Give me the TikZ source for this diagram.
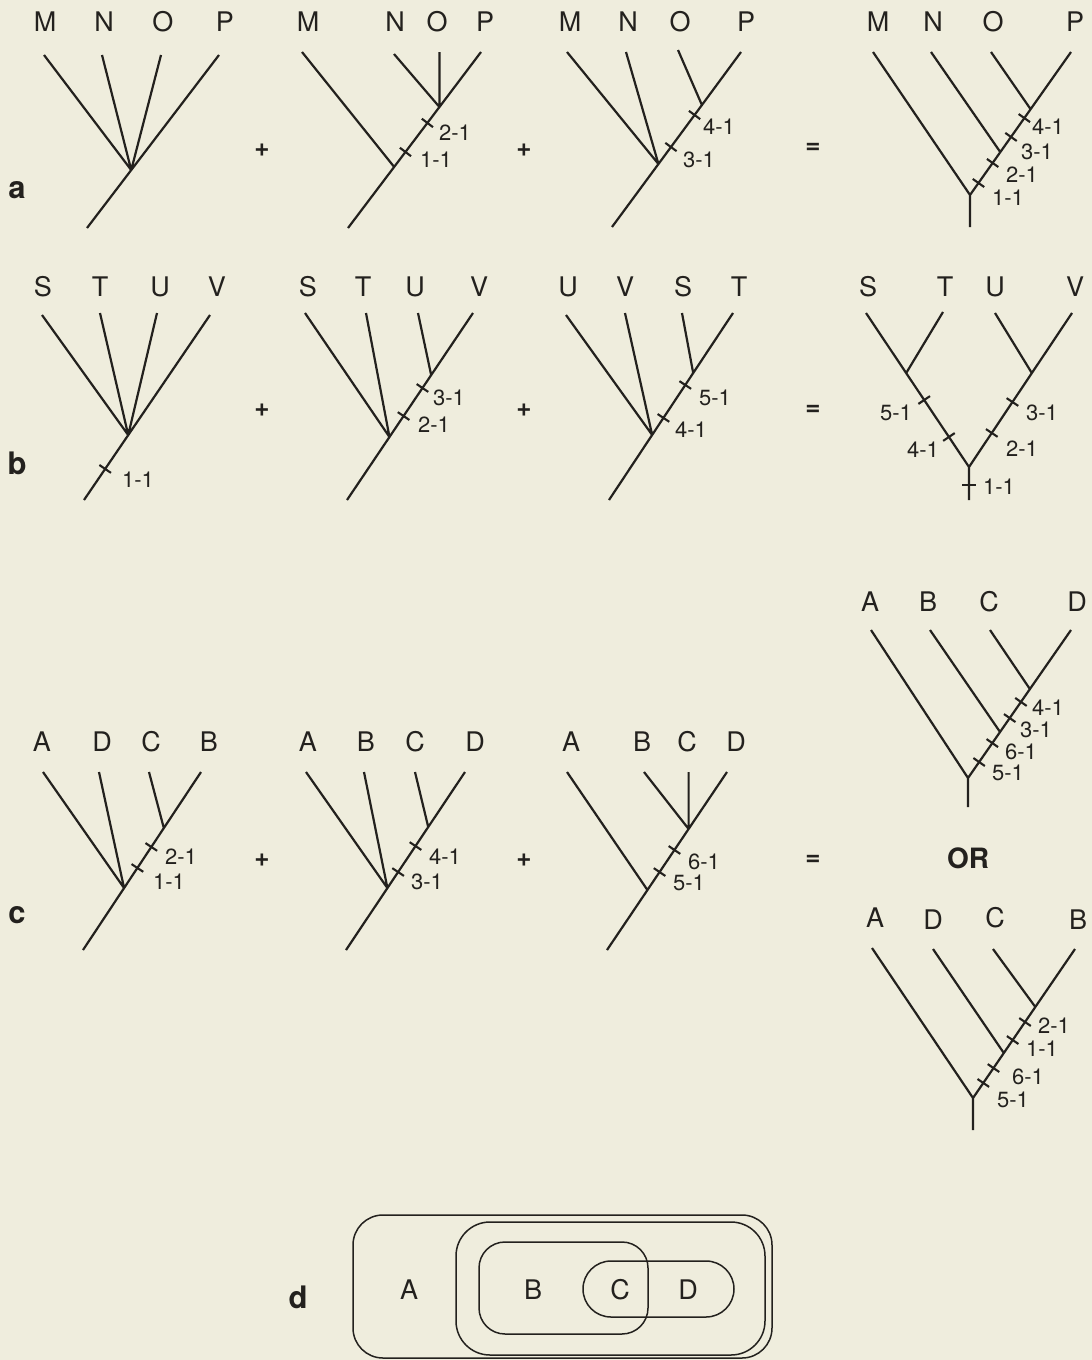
\documentclass[tikz,border=0pt]{standalone}
\usepackage{fontspec}
\setmainfont{TeX Gyre Heros}
\usetikzlibrary{calc}
\definecolor{paper}{RGB}{239,237,221}
\definecolor{ink}{RGB}{35,33,30}
\newcommand{\tmark}[3]{%
  \path (#1) -- (#2) coordinate[pos=#3] (tm);
  \draw[tickln] ($(tm)!7pt!90:(#2)$) -- ($(tm)!7pt!-90:(#2)$);}
\begin{document}
\begin{tikzpicture}[x=1pt,y=-1pt,
  br/.style={draw=ink,line width=2.2pt},
  tickln/.style={draw=ink,line width=2.1pt},
  lbl/.style={inner sep=0pt,text=ink,font=\fontsize{27}{30}\selectfont},
  num/.style={inner sep=0pt,text=ink,font=\fontsize{22}{24}\selectfont},
  part/.style={inner sep=0pt,text=ink,font=\fontsize{31}{33}\selectfont\bfseries},
  op/.style={inner sep=0pt,text=ink,font=\fontsize{26}{28}\selectfont\bfseries},
  box/.style={draw=ink,line width=1.5pt}]
\fill[paper] (0,0) rectangle (1092,1360);
\useasboundingbox (0,0) rectangle (1092,1360);

% ===== row a =====
\node[part] (pa) at (17,190) {a};
% a1
\coordinate (a1R) at (87,228); \coordinate (a1P) at (219,55);
\coordinate (a1J) at ($(a1R)!0.335!(a1P)$);
\coordinate (a1M) at (44,55); \coordinate (a1N) at (102,55); \coordinate (a1O) at (161,55);
\draw[br] (a1R) -- (a1P) (a1J) -- (a1M) (a1J) -- (a1N) (a1J) -- (a1O);
\node[lbl] (a1m) at (45,22) {M}; \node[lbl] (a1n) at (104,22) {N};
\node[lbl] (a1o) at (163,22) {O}; \node[lbl] (a1p) at (225,22) {P};
\node[op] (pl1) at (262,150) {+};
% a2
\coordinate (a2R) at (348,228); \coordinate (a2P) at (481,52);
\coordinate (a2J1) at ($(a2R)!0.347!(a2P)$); \coordinate (a2J2) at ($(a2R)!0.6875!(a2P)$);
\coordinate (a2M) at (302,52); \coordinate (a2N) at (394,54); \coordinate (a2O) at (a2J2 |- a2P);
\draw[br] (a2R) -- (a2P) (a2J1) -- (a2M) (a2J2) -- (a2N) (a2J2) -- (a2O);
\tmark{a2R}{a2P}{0.597} \tmark{a2R}{a2P}{0.432}
\node[num] (a2t2) at (455,133) {2-1}; \node[num] (a2t1) at (436,160) {1-1};
\node[lbl] (a2m) at (308,22) {M}; \node[lbl] (a2n) at (395,22) {N};
\node[lbl] (a2o) at (437,22) {O}; \node[lbl] (a2p) at (485,22) {P};
\node[op] (pl2) at (524,150) {+};
% a3
\coordinate (a3R) at (612,227); \coordinate (a3P) at (741,52);
\coordinate (a3J1) at ($(a3R)!0.36!(a3P)$); \coordinate (a3J2) at ($(a3R)!0.697!(a3P)$);
\coordinate (a3M) at (567,52); \coordinate (a3N) at (626,52); \coordinate (a3O) at (678,50);
\draw[br] (a3R) -- (a3P) (a3J1) -- (a3M) (a3J1) -- (a3N) (a3J2) -- (a3O);
\tmark{a3R}{a3P}{0.64} \tmark{a3R}{a3P}{0.457}
\node[num] (a3t4) at (719,127) {4-1}; \node[num] (a3t3) at (699,160) {3-1};
\node[lbl] (a3m) at (570,22) {M}; \node[lbl] (a3n) at (628,22) {N};
\node[lbl] (a3o) at (680,22) {O}; \node[lbl] (a3p) at (746,22) {P};
\node[op] (eq1) at (813,148) {=};
% a4
\coordinate (a4Rb) at (970,227); \coordinate (a4Rn) at (970,195); \coordinate (a4P) at (1071,52);
\coordinate (a4J1) at ($(a4Rn)!0.30!(a4P)$); \coordinate (a4J2) at ($(a4Rn)!0.60!(a4P)$);
\coordinate (a4M) at (873,52); \coordinate (a4N) at (931,52); \coordinate (a4O) at (991,52);
\draw[br] (a4Rb) -- (a4Rn) -- (a4P) (a4Rn) -- (a4M) (a4J1) -- (a4N) (a4J2) -- (a4O);
\tmark{a4Rn}{a4P}{0.538} \tmark{a4Rn}{a4P}{0.406} \tmark{a4Rn}{a4P}{0.224} \tmark{a4Rn}{a4P}{0.084}
\node[num] (a4t4) at (1048,127) {4-1}; \node[num] (a4t3) at (1037,152) {3-1};
\node[num] (a4t2) at (1022,175) {2-1}; \node[num] (a4t1) at (1008,198) {1-1};
\node[lbl] (a4m) at (878,22) {M}; \node[lbl] (a4n) at (933,22) {N};
\node[lbl] (a4o) at (993,22) {O}; \node[lbl] (a4p) at (1075,22) {P};

% ===== row b =====
\node[part] (pb) at (17,463) {b};
% b1
\coordinate (b1R) at (84,500); \coordinate (b1V) at (210,315);
\coordinate (b1J) at ($(b1R)!0.351!(b1V)$);
\coordinate (b1S) at (42,315); \coordinate (b1T) at (100,313); \coordinate (b1U) at (157,313);
\draw[br] (b1R) -- (b1V) (b1J) -- (b1S) (b1J) -- (b1T) (b1J) -- (b1U);
\tmark{b1R}{b1V}{0.168}
\node[num] (b1t1) at (138,480) {1-1};
\node[lbl] (b1s) at (43,287) {S}; \node[lbl] (b1tt) at (100,287) {T};
\node[lbl] (b1u) at (160,287) {U}; \node[lbl] (b1v) at (217,287) {V};
\node[op] (pl3) at (262,410) {+};
% b2
\coordinate (b2R) at (347,500); \coordinate (b2V) at (473,313);
\coordinate (b2J1) at ($(b2R)!0.337!(b2V)$); \coordinate (b2J2) at ($(b2R)!0.668!(b2V)$);
\coordinate (b2S) at (305,313); \coordinate (b2T) at (366,313); \coordinate (b2U) at (418,313);
\draw[br] (b2R) -- (b2V) (b2J1) -- (b2S) (b2J1) -- (b2T) (b2J2) -- (b2U);
\tmark{b2R}{b2V}{0.599} \tmark{b2R}{b2V}{0.449}
\node[num] (b2t3) at (449,398) {3-1}; \node[num] (b2t2) at (434,425) {2-1};
\node[lbl] (b2s) at (308,287) {S}; \node[lbl] (b2tt) at (363,287) {T};
\node[lbl] (b2u) at (415,287) {U}; \node[lbl] (b2v) at (479,287) {V};
\node[op] (pl4) at (524,410) {+};
% b3
\coordinate (b3R) at (609,500); \coordinate (b3T) at (733,313);
\coordinate (b3J1) at ($(b3R)!0.348!(b3T)$); \coordinate (b3J2) at ($(b3R)!0.679!(b3T)$);
\coordinate (b3U) at (566,315); \coordinate (b3V) at (625,313); \coordinate (b3S) at (682,313);
\draw[br] (b3R) -- (b3T) (b3J1) -- (b3U) (b3J1) -- (b3V) (b3J2) -- (b3S);
\tmark{b3R}{b3T}{0.615} \tmark{b3R}{b3T}{0.439}
\node[num] (b3t5) at (715,398) {5-1}; \node[num] (b3t4) at (691,430) {4-1};
\node[lbl] (b3u) at (568,287) {U}; \node[lbl] (b3v) at (625,287) {V};
\node[lbl] (b3s) at (683,287) {S}; \node[lbl] (b3tt) at (739,287) {T};
\node[op] (eq2) at (813,410) {=};
% b4
\coordinate (b4Rb) at (969,500); \coordinate (b4Rn) at (969,467);
\coordinate (b4S) at (866,313); \coordinate (b4V) at (1072,313);
\coordinate (b4JL) at ($(b4Rn)!0.61!(b4S)$); \coordinate (b4JR) at ($(b4Rn)!0.61!(b4V)$);
\coordinate (b4T) at (943,312); \coordinate (b4U) at (995,313);
\draw[br] (b4Rb) -- (b4Rn) (b4S) -- (b4Rn) -- (b4V) (b4JL) -- (b4T) (b4JR) -- (b4U);
\tmark{b4Rn}{b4S}{0.435} \tmark{b4Rn}{b4S}{0.195}
\tmark{b4Rn}{b4V}{0.422} \tmark{b4Rn}{b4V}{0.221}
\tmark{b4Rb}{b4Rn}{0.45}
\node[num] (b4t5) at (896,413) {5-1}; \node[num] (b4t4) at (923,450) {4-1};
\node[num] (b4t3) at (1042,413) {3-1}; \node[num] (b4t2) at (1022,449) {2-1};
\node[num] (b4t1) at (999,487) {1-1};
\node[lbl] (b4s) at (868,287) {S}; \node[lbl] (b4tt) at (945,287) {T};
\node[lbl] (b4u) at (995,287) {U}; \node[lbl] (b4v) at (1075,287) {V};

% ===== row c =====
\node[part] (pc) at (17,915) {c};
% c1
\coordinate (c1R) at (83,950); \coordinate (c1B) at (201,772);
\coordinate (c1J1) at ($(c1R)!0.348!(c1B)$); \coordinate (c1J2) at ($(c1R)!0.685!(c1B)$);
\coordinate (c1A) at (43,772); \coordinate (c1D) at (99,772); \coordinate (c1C) at (149,772);
\draw[br] (c1R) -- (c1B) (c1J1) -- (c1A) (c1J1) -- (c1D) (c1J2) -- (c1C);
\tmark{c1R}{c1B}{0.579} \tmark{c1R}{c1B}{0.461}
\node[num] (c1t2) at (181,857) {2-1}; \node[num] (c1t1) at (169,882) {1-1};
\node[lbl] (c1a) at (42,742) {A}; \node[lbl] (c1d) at (102,742) {D};
\node[lbl] (c1c) at (151,742) {C}; \node[lbl] (c1b) at (209,742) {B};
\node[op] (pl5) at (262,860) {+};
% c2
\coordinate (c2R) at (346,950); \coordinate (c2D) at (465,772);
\coordinate (c2J1) at ($(c2R)!0.348!(c2D)$); \coordinate (c2J2) at ($(c2R)!0.691!(c2D)$);
\coordinate (c2A) at (306,772); \coordinate (c2B) at (364,772); \coordinate (c2C) at (415,772);
\draw[br] (c2R) -- (c2D) (c2J1) -- (c2A) (c2J1) -- (c2B) (c2J2) -- (c2C);
\tmark{c2R}{c2D}{0.584} \tmark{c2R}{c2D}{0.438}
\node[num] (c2t4) at (445,857) {4-1}; \node[num] (c2t3) at (427,882) {3-1};
\node[lbl] (c2a) at (308,742) {A}; \node[lbl] (c2b) at (366,742) {B};
\node[lbl] (c2c) at (415,742) {C}; \node[lbl] (c2d) at (475,742) {D};
\node[op] (pl6) at (524,860) {+};
% c3
\coordinate (c3R) at (607,950); \coordinate (c3D) at (727,772);
\coordinate (c3J1) at ($(c3R)!0.337!(c3D)$); \coordinate (c3J2) at ($(c3R)!0.680!(c3D)$);
\coordinate (c3A) at (567,772); \coordinate (c3B) at (644,772); \coordinate (c3C) at (c3J2 |- c3D);
\draw[br] (c3R) -- (c3D) (c3J1) -- (c3A) (c3J2) -- (c3B) (c3J2) -- (c3C);
\tmark{c3R}{c3D}{0.562} \tmark{c3R}{c3D}{0.438}
\node[num] (c3t6) at (704,862) {6-1}; \node[num] (c3t5) at (689,883) {5-1};
\node[lbl] (c3a) at (571,742) {A}; \node[lbl] (c3b) at (642,742) {B};
\node[lbl] (c3c) at (687,742) {C}; \node[lbl] (c3d) at (736,742) {D};
\node[op] (eq3) at (813,860) {=};
% c4
\coordinate (c4Rb) at (968,807); \coordinate (c4Rn) at (968,778); \coordinate (c4D) at (1071,630);
\coordinate (c4J1) at ($(c4Rn)!0.311!(c4D)$); \coordinate (c4J2) at ($(c4Rn)!0.601!(c4D)$);
\coordinate (c4A) at (871,630); \coordinate (c4B) at (930,630); \coordinate (c4C) at (990,630);
\draw[br] (c4Rb) -- (c4Rn) -- (c4D) (c4Rn) -- (c4A) (c4J1) -- (c4B) (c4J2) -- (c4C);
\tmark{c4Rn}{c4D}{0.514} \tmark{c4Rn}{c4D}{0.405} \tmark{c4Rn}{c4D}{0.236} \tmark{c4Rn}{c4D}{0.108}
\node[num] (c4t4) at (1048,708) {4-1}; \node[num] (c4t3) at (1036,730) {3-1};
\node[num] (c4t6) at (1021,752) {6-1}; \node[num] (c4t5) at (1008,773) {5-1};
\node[lbl] (c4a) at (870,602) {A}; \node[lbl] (c4b) at (928,602) {B};
\node[lbl] (c4c) at (989,602) {C}; \node[lbl] (c4d) at (1077,602) {D};
\node[inner sep=0pt,text=ink,font=\fontsize{28}{30}\selectfont\bfseries] (or) at (968,858) {OR};
% c5
\coordinate (c5Rb) at (973,1130); \coordinate (c5Rn) at (973,1098); \coordinate (c5B) at (1075,949);
\coordinate (c5J1) at ($(c5Rn)!0.302!(c5B)$); \coordinate (c5J2) at ($(c5Rn)!0.611!(c5B)$);
\coordinate (c5A) at (872,948); \coordinate (c5D) at (933,949); \coordinate (c5C) at (993,949);
\draw[br] (c5Rb) -- (c5Rn) -- (c5B) (c5Rn) -- (c5A) (c5J1) -- (c5D) (c5J2) -- (c5C);
\tmark{c5Rn}{c5B}{0.51} \tmark{c5Rn}{c5B}{0.389} \tmark{c5Rn}{c5B}{0.201} \tmark{c5Rn}{c5B}{0.101}
\node[num] (c5t2) at (1054,1026) {2-1}; \node[num] (c5t1) at (1042,1049) {1-1};
\node[num] (c5t6) at (1028,1077) {6-1}; \node[num] (c5t5) at (1013,1100) {5-1};
\node[lbl] (c5a) at (875,918) {A}; \node[lbl] (c5d) at (933,920) {D};
\node[lbl] (c5c) at (995,918) {C}; \node[lbl] (c5b) at (1078,920) {B};

% ===== part d =====
\node[part] (pd) at (298,1297) {d};
\draw[box,rounded corners=30pt] (353,1215) rectangle (772,1358);
\draw[box,rounded corners=34pt] (456,1222) rectangle (765,1355);
\draw[box,rounded corners=26pt] (479,1242) rectangle (648,1334);
\draw[box,rounded corners=28pt] (583,1261) rectangle (734,1317);
\node[lbl] (dA) at (409,1290) {A};
\node[lbl] (dB) at (533,1290) {B};
\node[lbl] (dC) at (620,1290) {C};
\node[lbl] (dD) at (688,1290) {D};
\end{tikzpicture}
\end{document}
